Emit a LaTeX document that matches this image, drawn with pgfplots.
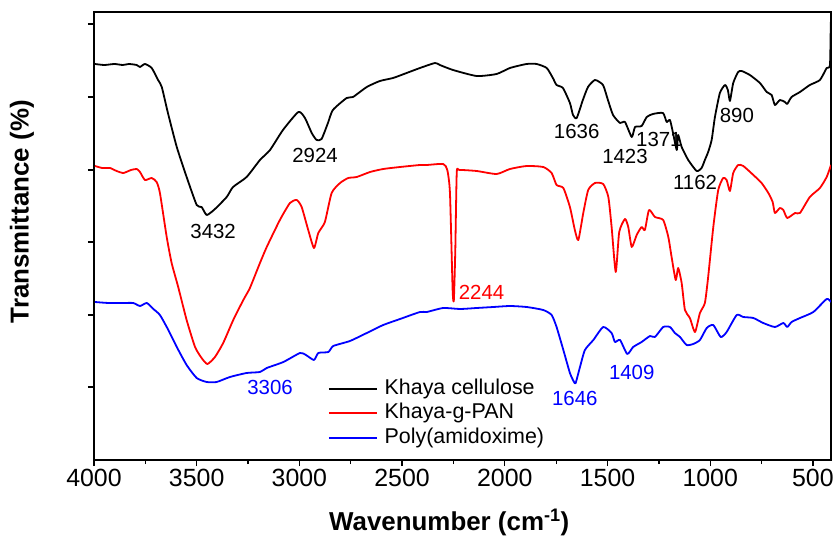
\documentclass[border=0pt]{standalone}
\usepackage{pgfplots}
\pgfplotsset{compat=1.18}
\usepackage{fontspec}
\setmainfont{Liberation Sans}
\newcommand\fs[1]{\fontsize{#1}{#1}\selectfont}
\begin{document}
\begin{tikzpicture}
\begin{axis}[
  at={(0,0)}, anchor=south west,
  scale only axis, width=737bp, height=448bp,
  x dir=reverse, xmin=412, xmax=4000, ymin=0, ymax=448,
  xtick={4000,3500,3000,2500,2000,1500,1000,500},
  minor x tick num=1,
  ytick={73,145,218,290,363,436}, yticklabels={},
  xtick pos=bottom, ytick pos=left,
  tick align=outside,
  major tick length=6bp, minor tick length=4bp,
  tick style={line width=1.3bp, black},
  axis line style={line width=1.3bp},
  /pgf/number format/assume math mode=true,
  /pgf/number format/1000 sep={},
  ticklabel style={font=\fs{25}},
  xlabel={\textbf{Wavenumber (cm\textsuperscript{-1})}},
  ylabel={\textbf{Transmittance (\%)}},
  label style={font=\fs{26}},
  xlabel style={at={(axis description cs:0.482,0)}, anchor=center, yshift=-62bp},
  ylabel style={at={(axis description cs:0,0.554)}, anchor=center, yshift=72bp},
  legend style={draw=none, fill=none, at={(axis description cs:0.313,0.1875)}, anchor=north west,
    font=\fs{21.5}, column sep=7bp, row sep=3.5bp,
    nodes={inner sep=0pt, text height=16bp, text depth=5bp}},
  legend cell align=left,
  legend image code/.code={\draw[#1] (0bp,0bp) -- (48bp,0bp);},
  every axis plot/.append style={line width=1.8bp, line join=round, smooth, tension=0.35},
]
\addplot[black] coordinates {
(3995,396) (3950,395) (3900,396) (3860,395) (3830,396) (3792,395) (3776,393) (3752,396) (3719,392) (3688,380) (3670,373) (3640,347) (3597,313) (3549,283) (3500,255) (3476,253) (3451,245) (3411,251) (3354,263) (3323,273) (3257,283) (3192,300) (3143,310) (3080,330) (3005,348) (2973,342) (2940,327) (2916,320) (2892,321) (2861,337) (2837,350) (2770,362) (2739,363) (2672,373) (2608,379) (2544,382) (2478,387) (2413,392) (2340,397) (2316,395) (2252,390) (2137,384) (2040,386) (1975,392) (1894,396) (1845,396) (1796,392) (1766,382) (1748,375) (1717,372) (1683,357) (1668,345) (1650,342) (1620,360) (1595,373) (1561,380) (1522,375) (1498,360) (1473,345) (1439,337) (1415,338) (1382,323) (1366,333) (1334,334) (1309,343) (1279,346) (1230,347) (1212,338) (1196,340) (1181,327) (1163,310) (1156,325) (1139,313) (1107,300) (1066,289) (1042,292) (1026,300) (1010,308) (993,320) (977,343) (953,367) (928,375) (914,370) (904,359) (888,377) (864,388) (847,389) (807,385) (758,377) (725,368) (701,365) (685,355) (661,360) (636,358) (625,356) (604,363) (563,368) (515,375) (466,380) (433,392) (417,395) (413,438)
};
\addlegendentry{Khaya cellulose}
\addplot[red] coordinates {
(3995,294) (3960,292) (3922,292) (3890,289) (3857,287) (3820,290) (3792,291) (3776,288) (3752,280) (3719,282) (3695,278) (3679,267) (3646,223) (3622,197) (3590,173) (3549,140) (3508,113) (3476,102) (3448,96) (3411,103) (3371,117) (3322,140) (3273,160) (3241,172) (3192,197) (3159,213) (3095,240) (3046,257) (3013,260) (2989,253) (2957,230) (2929,212) (2908,227) (2876,238) (2843,267) (2802,277) (2762,282) (2721,283) (2656,288) (2592,291) (2510,293) (2413,295) (2380,295) (2300,296) (2280,290) (2267,267) (2254,170) (2248,160) (2241,210) (2234,287) (2222,290) (2137,289) (2040,286) (1975,291) (1894,294) (1813,293) (1772,287) (1748,275) (1715,272) (1683,253) (1659,230) (1642,220) (1618,247) (1594,270) (1561,277) (1521,276) (1496,263) (1480,233) (1460,188) (1443,228) (1415,241) (1399,233) (1382,213) (1358,225) (1334,233) (1318,230) (1298,250) (1269,243) (1229,240) (1204,223) (1188,203) (1168,180) (1156,192) (1139,177) (1123,150) (1099,142) (1074,128) (1050,147) (1026,157) (1010,183) (985,233) (961,270) (937,282) (920,280) (904,269) (888,287) (864,295) (839,294) (790,285) (750,277) (717,267) (696,258) (685,247) (661,252) (644,250) (625,242) (587,247) (563,247) (515,263) (466,272) (433,283) (412,295)
};
\addlegendentry{Khaya-g-PAN}
\addplot[blue] coordinates {
(3995,158) (3930,157) (3857,157) (3809,157) (3776,154) (3743,157) (3711,151) (3679,145) (3638,130) (3597,113) (3549,95) (3500,82) (3451,78) (3403,78) (3338,83) (3257,87) (3192,88) (3159,92) (3078,98) (2997,107) (2968,105) (2929,100) (2908,107) (2859,108) (2835,114) (2754,119) (2672,127) (2592,135) (2510,141) (2413,148) (2380,148) (2300,152) (2218,151) (2137,152) (2056,153) (1975,154) (1894,153) (1813,150) (1772,145) (1748,133) (1715,110) (1683,87) (1663,78) (1655,77) (1634,93) (1610,110) (1569,120) (1521,133) (1480,127) (1464,118) (1439,120) (1404,106) (1375,113) (1334,118) (1293,124) (1269,123) (1229,133) (1196,133) (1172,127) (1147,123) (1115,115) (1083,116) (1050,120) (1017,132) (985,135) (949,123) (920,128) (871,145) (839,143) (790,142) (742,137) (685,133) (644,137) (625,133) (604,138) (563,142) (498,148) (433,161) (412,158)
};
\addlegendentry{Poly(amidoxime)}
\begin{scope}[every node/.style={font=\fs{20.5}, inner sep=0pt}]
\node[black] at (axis cs:3420,229) {3432};
\node[black] at (axis cs:2924,305) {2924};
\node[black] at (axis cs:1650,329) {1636};
\node[black] at (axis cs:1415,304) {1423};
\node[black] at (axis cs:1250,321) {1371};
\node[black] at (axis cs:870,345) {890};
\node[black] at (axis cs:1074,278) {1162};
\node[red] at (axis cs:2113,168) {2244};
\node[blue] at (axis cs:3143,73) {3306};
\node[blue] at (axis cs:1659,62) {1646};
\node[blue] at (axis cs:1382,88) {1409};
\end{scope}
\end{axis}
\pgfresetboundingbox
\useasboundingbox (-94bp,-77bp) rectangle (741bp,460bp);
\end{tikzpicture}
\end{document}
